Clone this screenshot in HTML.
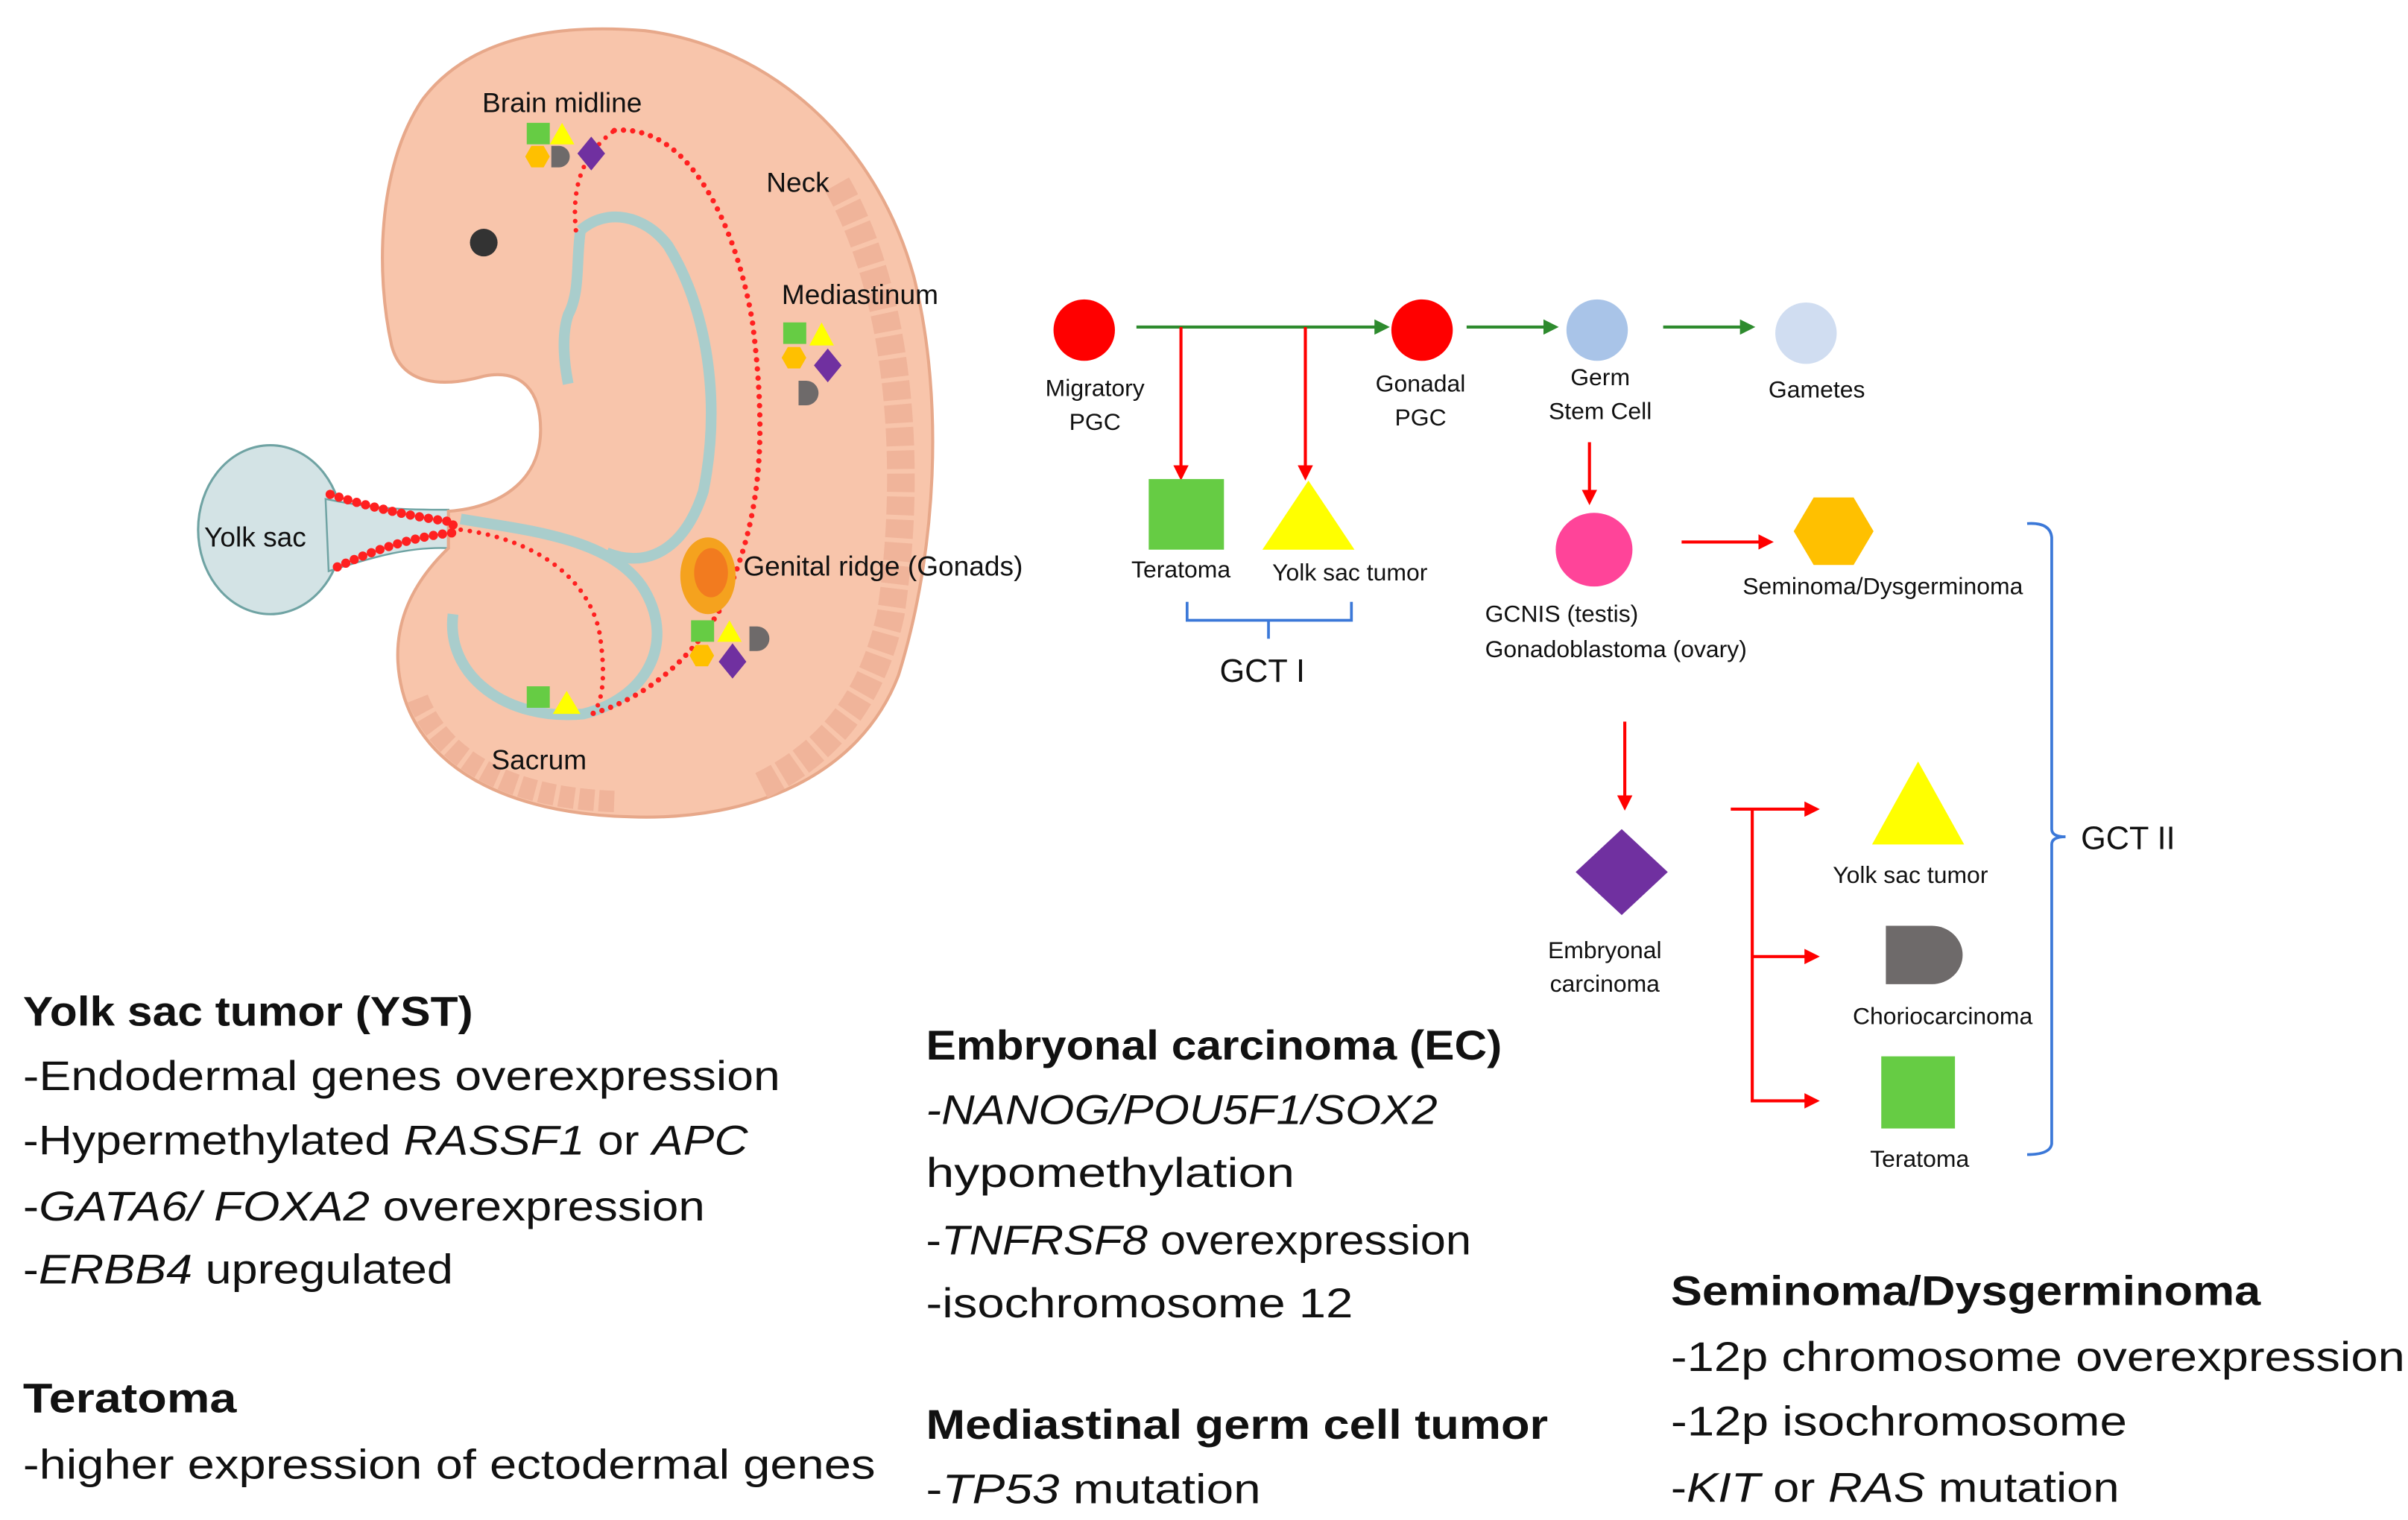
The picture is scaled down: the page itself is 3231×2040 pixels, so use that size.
<!DOCTYPE html>
<html><head><meta charset="utf-8"><style>
html,body{margin:0;padding:0;background:#fff;}
svg{display:block;}
text{font-family:"Liberation Sans",sans-serif;fill:#111;}
.s{font-size:15.5px;text-anchor:middle;}
.b{font-size:27px;}
.bb{font-size:27px;font-weight:bold;}
</style></head><body>
<svg width="3231" height="2040" viewBox="0 0 1568 990" preserveAspectRatio="none" xmlns="http://www.w3.org/2000/svg">
<defs>
<marker id="g" markerWidth="10" markerHeight="10" refX="8" refY="5" orient="auto" markerUnits="userSpaceOnUse"><path d="M0,0 L10,5 L0,10 Z" fill="#2e8b2e"/></marker>
<marker id="r" markerWidth="10" markerHeight="10" refX="8" refY="5" orient="auto" markerUnits="userSpaceOnUse"><path d="M0,0 L10,5 L0,10 Z" fill="#ff0000"/></marker>
<g id="cl">
<rect x="0" y="0" width="15" height="14" fill="#66cc44"/>
<path d="M23,0 L31,14 L15,14 Z" fill="#ffff00"/>
<path d="M3,15 L11,15 L15,22 L11,29 L3,29 L-1,22 Z" fill="#ffc000"/>
<path d="M16,15 L21,15 A7,7 0 0 1 21,29 L16,29 Z" fill="#6e6a6a"/>
<path d="M42,9 L51,20 L42,31 L33,20 Z" fill="#7030a0"/>
</g>
</defs>
<!-- Embryo -->
<ellipse cx="176" cy="345" rx="47" ry="55" fill="#d3e3e5" stroke="#6fa3a3" stroke-width="1.5"/>
<path d="M212,325 C245,332 268,332 292,332 L292,357 C268,356 245,362 214,372 Z" fill="#d3e3e5" stroke="#6fa3a3" stroke-width="1.2"/>
<path d="M292,333 C330,330 352,310 352,280 C352,255 340,240 315,245 C290,252 262,252 255,225 C245,180 245,110 275,65 C305,25 360,15 420,20 C500,30 570,90 595,180 C615,260 610,360 585,440 C560,505 490,535 410,532 C330,530 275,500 262,450 C252,410 268,380 292,357 Z" fill="#f8c5ab" stroke="#e7a88a" stroke-width="2"/>
<path d="M545,120 C585,190 595,300 580,400 C568,455 540,490 495,512" fill="none" stroke="#f0b49a" stroke-width="18" stroke-dasharray="12 3"/>
<path d="M272,455 C290,500 340,520 400,522" fill="none" stroke="#f0b49a" stroke-width="14" stroke-dasharray="10 3"/>
<circle cx="315" cy="158" r="9" fill="#333"/>
<path d="M378,150 C395,135 420,140 435,160 C460,200 470,260 458,320 C445,360 420,370 395,360 M378,150 C375,170 378,190 370,205 C365,220 368,240 370,250" fill="none" stroke="#a9cdcc" stroke-width="7"/>
<path d="M300,338 C340,345 400,350 420,385 C440,420 420,455 380,465 C330,470 290,440 295,400" fill="none" stroke="#a9cdcc" stroke-width="7"/>
<path d="M400,85 C450,80 480,150 490,210 C500,290 495,340 470,395 C450,430 420,455 385,465" fill="none" stroke="#ff2020" stroke-width="3.5" stroke-linecap="round" stroke-dasharray="0 6"/>
<path d="M300,345 C340,350 380,370 390,410 C395,440 392,455 388,462" fill="none" stroke="#ff2020" stroke-width="3" stroke-linecap="round" stroke-dasharray="0 6"/>
<path d="M375,150 C372,120 380,100 400,85" fill="none" stroke="#ff2020" stroke-width="3" stroke-linecap="round" stroke-dasharray="0 6"/>
<path d="M215,322 C240,330 265,336 295,340 L295,347 C265,350 240,360 218,370" fill="none" stroke="#ff2020" stroke-width="6" stroke-linecap="round" stroke-dasharray="0 6"/>
<ellipse cx="461" cy="375" rx="18" ry="25" fill="#f5a21e"/>
<ellipse cx="463" cy="373" rx="11" ry="16" fill="#f06020" opacity="0.6"/>
<text x="314" y="73" style="font-size:18px">Brain midline</text>
<text x="499" y="125" style="font-size:18px">Neck</text>
<text x="509" y="198" style="font-size:18px">Mediastinum</text>
<text x="133" y="356" style="font-size:18px">Yolk sac</text>
<text x="484" y="375" style="font-size:18px">Genital ridge (Gonads)</text>
<text x="320" y="501" style="font-size:18px">Sacrum</text>
<use href="#cl" x="343" y="80"/>
<g transform="translate(510,210)">
<rect x="0" y="0" width="15" height="14" fill="#66cc44"/><path d="M25,0 L33,15 L17,15 Z" fill="#ffff00"/>
<path d="M3,16 L11,16 L15,23 L11,30 L3,30 L-1,23 Z" fill="#ffc000"/><path d="M29,17 L38,28 L29,39 L20,28 Z" fill="#7030a0"/>
<path d="M10,38 L15,38 A8,8 0 0 1 15,54 L10,54 Z" fill="#6e6a6a"/></g>
<g transform="translate(450,404)">
<rect x="0" y="0" width="15" height="14" fill="#66cc44"/><path d="M25,0 L33,14 L17,14 Z" fill="#ffff00"/>
<path d="M38,4 L43,4 A8,8 0 0 1 43,20 L38,20 Z" fill="#6e6a6a"/>
<path d="M3,16 L11,16 L15,23 L11,30 L3,30 L-1,23 Z" fill="#ffc000"/><path d="M27,15 L36,27 L27,38 L18,27 Z" fill="#7030a0"/></g>
<rect x="343" y="447" width="15" height="14" fill="#66cc44"/><path d="M369,450 L378,465 L360,465 Z" fill="#ffff00"/>
<!-- flow -->
<g stroke-width="2" fill="none">
<line x1="740" y1="213" x2="903" y2="213" stroke="#2e8b2e" marker-end="url(#g)"/>
<line x1="955" y1="213" x2="1013" y2="213" stroke="#2e8b2e" marker-end="url(#g)"/>
<line x1="1083" y1="213" x2="1141" y2="213" stroke="#2e8b2e" marker-end="url(#g)"/>
<line x1="769" y1="213" x2="769" y2="311" stroke="#f00" marker-end="url(#r)"/>
<line x1="850" y1="213" x2="850" y2="311" stroke="#f00" marker-end="url(#r)"/>
<line x1="1035" y1="288" x2="1035" y2="327" stroke="#f00" marker-end="url(#r)"/>
<line x1="1095" y1="353" x2="1153" y2="353" stroke="#f00" marker-end="url(#r)"/>
<line x1="1058" y1="470" x2="1058" y2="526" stroke="#f00" marker-end="url(#r)"/>
<line x1="1127" y1="527" x2="1183" y2="527" stroke="#f00" marker-end="url(#r)"/>
<polyline points="1141,527 1141,717 1183,717" stroke="#f00" marker-end="url(#r)"/>
<line x1="1141" y1="623" x2="1183" y2="623" stroke="#f00" marker-end="url(#r)"/>
<path d="M773,392 L773,404 L880,404 L880,392 M826,404 L826,416" stroke="#3b78d8" stroke-width="1.8"/>
<path d="M1320,341 Q1335,340 1336,350 L1336,540 Q1336,545 1345,545 Q1336,545 1336,550 L1336,745 Q1335,752 1320,752" stroke="#3b78d8" stroke-width="1.8"/>
</g>
<circle cx="706" cy="215" r="20" fill="#ff0000"/>
<circle cx="926" cy="215" r="20" fill="#ff0000"/>
<circle cx="1040" cy="215" r="20" fill="#a9c4e8"/>
<circle cx="1176" cy="217" r="20" fill="#d0ddf1"/>
<rect x="748" y="312" width="49" height="46" fill="#66cc44"/>
<path d="M852,313 L882,358 L822,358 Z" fill="#ffff00"/>
<ellipse cx="1038" cy="358" rx="25" ry="24" fill="#ff4499"/>
<path d="M1181,324 L1207,324 L1220,346 L1207,368 L1181,368 L1168,346 Z" fill="#ffc000"/>
<path d="M1056,540 L1086,568 L1056,596 L1026,568 Z" fill="#7030a0"/>
<path d="M1249,496 L1279,550 L1219,550 Z" fill="#ffff00"/>
<path d="M1228,603 L1258,603 A20,19 0 0 1 1258,641 L1228,641 Z" fill="#6e6a6a"/>
<rect x="1225" y="688" width="48" height="47" fill="#66cc44"/>
<text class="s" x="713" y="258">Migratory</text><text class="s" x="713" y="280">PGC</text>
<text class="s" x="925" y="255">Gonadal</text><text class="s" x="925" y="277">PGC</text>
<text class="s" x="1042" y="251">Germ</text><text class="s" x="1042" y="273">Stem Cell</text>
<text class="s" x="1183" y="259">Gametes</text>
<text class="s" x="769" y="376">Teratoma</text>
<text class="s" x="879" y="378">Yolk sac tumor</text>
<text x="822" y="444" style="font-size:21px;text-anchor:middle">GCT I</text>
<text x="967" y="405" style="font-size:15.5px">GCNIS (testis)</text>
<text x="967" y="428" style="font-size:15.5px">Gonadoblastoma (ovary)</text>
<text class="s" x="1226" y="387">Seminoma/Dysgerminoma</text>
<text x="1355" y="553" style="font-size:21px">GCT II</text>
<text class="s" x="1045" y="624">Embryonal</text><text class="s" x="1045" y="646">carcinoma</text>
<text class="s" x="1244" y="575">Yolk sac tumor</text>
<text class="s" x="1265" y="667">Choriocarcinoma</text>
<text class="s" x="1250" y="760">Teratoma</text>
<!-- text blocks -->
<text class="bb" x="15" y="668" textLength="293" lengthAdjust="spacingAndGlyphs">Yolk sac tumor (YST)</text>
<text class="b" x="15" y="710" textLength="493" lengthAdjust="spacingAndGlyphs">-Endodermal genes overexpression</text>
<text class="b" x="15" y="752" textLength="472" lengthAdjust="spacingAndGlyphs">-Hypermethylated <tspan font-style="italic">RASSF1</tspan> or <tspan font-style="italic">APC</tspan></text>
<text class="b" x="15" y="795" textLength="444" lengthAdjust="spacingAndGlyphs">-<tspan font-style="italic">GATA6/ FOXA2</tspan> overexpression</text>
<text class="b" x="15" y="836" textLength="280" lengthAdjust="spacingAndGlyphs">-<tspan font-style="italic">ERBB4</tspan> upregulated</text>
<text class="bb" x="15" y="920" textLength="139" lengthAdjust="spacingAndGlyphs">Teratoma</text>
<text class="b" x="15" y="963" textLength="555" lengthAdjust="spacingAndGlyphs">-higher expression of ectodermal genes</text>
<text class="bb" x="603" y="690" textLength="375" lengthAdjust="spacingAndGlyphs">Embryonal carcinoma (EC)</text>
<text class="b" x="603" y="732" textLength="333" lengthAdjust="spacingAndGlyphs" font-style="italic">-NANOG/POU5F1/SOX2</text>
<text class="b" x="603" y="773" textLength="240" lengthAdjust="spacingAndGlyphs">hypomethylation</text>
<text class="b" x="603" y="817" textLength="355" lengthAdjust="spacingAndGlyphs">-<tspan font-style="italic">TNFRSF8</tspan> overexpression</text>
<text class="b" x="603" y="858" textLength="278" lengthAdjust="spacingAndGlyphs">-isochromosome 12</text>
<text class="bb" x="603" y="937" textLength="405" lengthAdjust="spacingAndGlyphs">Mediastinal germ cell tumor</text>
<text class="b" x="603" y="979" textLength="218" lengthAdjust="spacingAndGlyphs">-<tspan font-style="italic">TP53</tspan> mutation</text>
<text class="bb" x="1088" y="850" textLength="384" lengthAdjust="spacingAndGlyphs">Seminoma/Dysgerminoma</text>
<text class="b" x="1088" y="893" textLength="478" lengthAdjust="spacingAndGlyphs">-12p chromosome overexpression</text>
<text class="b" x="1088" y="935" textLength="297" lengthAdjust="spacingAndGlyphs">-12p isochromosome</text>
<text class="b" x="1088" y="978" textLength="292" lengthAdjust="spacingAndGlyphs">-<tspan font-style="italic">KIT</tspan> or <tspan font-style="italic">RAS</tspan> mutation</text>
</svg>
</body></html>
